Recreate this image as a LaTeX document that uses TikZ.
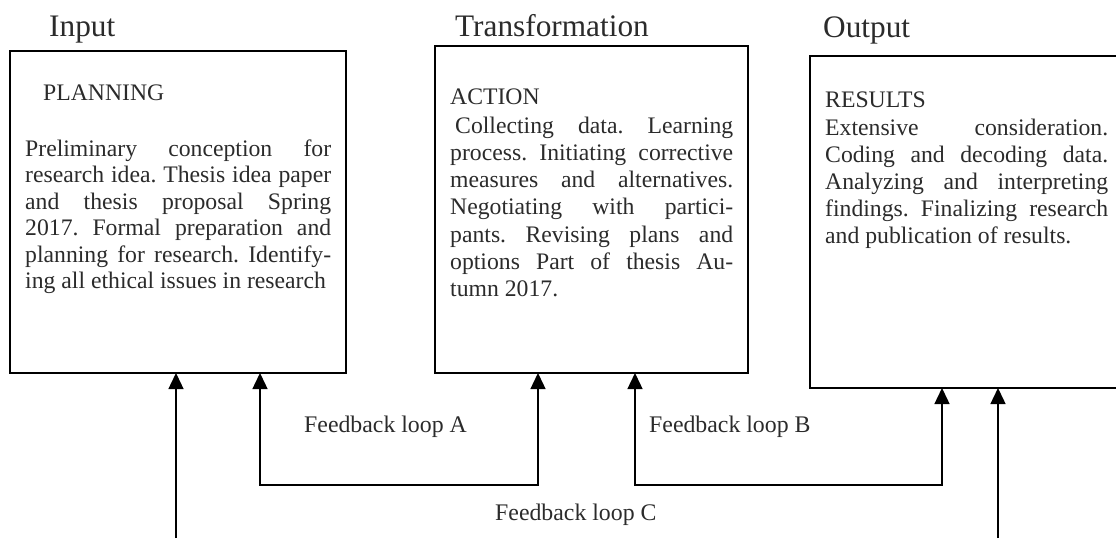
\documentclass[tikz,border=0pt]{standalone}
\usepackage{fontspec}
\setmainfont{Liberation Serif}
\usetikzlibrary{arrows.meta}
\frenchspacing
\newcommand{\jline}[1]{\makebox[\linewidth][s]{#1}\par}
\newcommand{\lline}[1]{\makebox[\linewidth][l]{#1}\par}
\definecolor{txt}{HTML}{2B2B2B}
\tikzset{
  box/.style={draw=black, line width=2.2pt, rectangle, inner sep=0pt, outer sep=0pt},
  title/.style={anchor=base west, inner sep=0pt, text=txt, font=\fontsize{31.3}{34}\selectfont},
  head/.style={anchor=base west, inner sep=0pt, text=txt, font=\fontsize{23.7}{27}\selectfont},
  body/.style={anchor=base west, inner sep=0pt, text=txt},
  lab/.style={anchor=base west, inner sep=0pt, text=txt, font=\fontsize{23.8}{27}\selectfont},
  conn/.style={draw=black, line width=1.4pt, -{Triangle[length=16pt,width=15pt]}},
  conn2/.style={draw=black, line width=1.4pt, {Triangle[length=16pt,width=15pt]}-{Triangle[length=16pt,width=15pt]}},
}
\begin{document}
\begin{tikzpicture}[x=1pt,y=-1pt]
\useasboundingbox (0,0) rectangle (1116,538);
\clip (0,0) rectangle (1116,538);
% boxes
\node[box, minimum width=336pt, minimum height=322pt] (b1) at (178,212) {};
\node[box, minimum width=313pt, minimum height=327pt] (b2) at (591.5,209.5) {};
\node[box, minimum width=320pt, minimum height=332pt] (b3) at (970,222) {};
% titles
\node[title] (t1) at (49,36) {Input};
\node[title] (t2) at (455,36) {Transformation};
\node[title] (t3) at (823,37) {Output};
% box 1 text
\node[head] (h1) at (43,100) {PLANNING};
\node[body] (p1) at (25,156) {\parbox[t]{306pt}{\fontsize{23.7}{26.5}\selectfont\parindent=0pt
\jline{Preliminary conception for}
\jline{research idea. Thesis idea paper}
\jline{and thesis proposal Spring}
\jline{2017. Formal preparation and}
\jline{planning for research. Identify-}
\lline{ing all ethical issues in research}}};
% box 2 text
\node[head] (h2) at (450,104) {ACTION};
\node[body] (p2) at (450,133) {\parbox[t]{283pt}{\fontsize{23.7}{27.3}\selectfont\parindent=0pt
\jline{\hspace{5pt}Collecting data. Learning}
\jline{process. Initiating corrective}
\jline{measures and alternatives.}
\jline{Negotiating with partici-}
\jline{pants. Revising plans and}
\jline{options Part of thesis Au-}
\lline{tumn 2017.}}};
% box 3 text
\node[head] (h3) at (825,107) {RESULTS};
\node[body] (p3) at (825,135) {\parbox[t]{283pt}{\fontsize{23.7}{27}\selectfont\parindent=0pt
\jline{Extensive consideration.}
\jline{Coding and decoding data.}
\jline{Analyzing and interpreting}
\jline{findings. Finalizing research}
\lline{and publication of results.}}};
% connector coordinates
\coordinate (in1) at (176,538);
\coordinate (in2) at (998,538);
\coordinate (la1) at (260,485);
\coordinate (la2) at (538,485);
\coordinate (lb1) at (635,485);
\coordinate (lb2) at (942,485);
% connectors
\draw[conn] (in1) -- (in1 |- b1.south);
\draw[conn] (in2) -- (in2 |- b3.south);
\draw[conn2] (b1.south -| la1) -- (la1) -- (la2) -- (b2.south -| la2);
\draw[conn2] (b2.south -| lb1) -- (lb1) -- (lb2) -- (b3.south -| lb2);
% labels
\node[lab] (fa) at (304,432) {Feedback loop A};
\node[lab] (fb) at (649,432) {Feedback loop B};
\node[lab] (fc) at (495,520) {Feedback loop C};
\end{tikzpicture}
\end{document}
